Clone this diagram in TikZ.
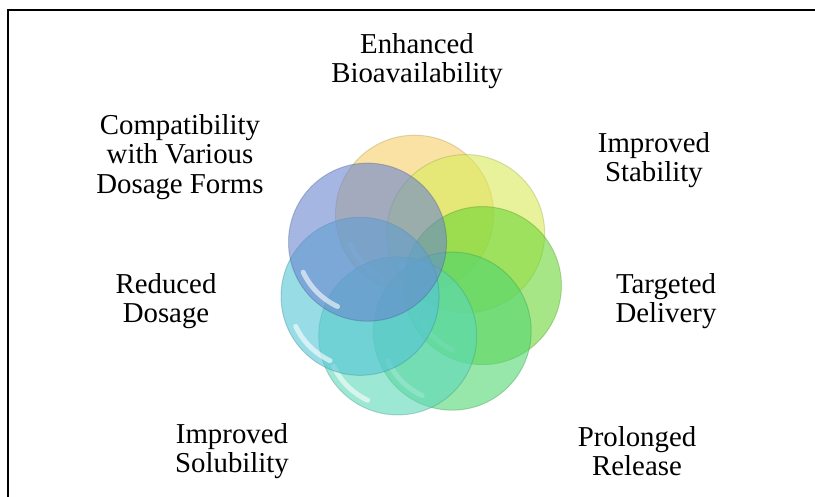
\documentclass[tikz,border=0pt]{standalone}
\usepackage{fontspec}
\setmainfont{Liberation Serif}
\usetikzlibrary{positioning,calc}
\definecolor{bubA}{HTML}{F7CF68}
\definecolor{bubB}{HTML}{D8EA58}
\definecolor{bubC}{HTML}{6CD636}
\definecolor{bubD}{HTML}{52D672}
\definecolor{bubE}{HTML}{5CD8B8}
\definecolor{bubF}{HTML}{54C4D6}
\definecolor{bubG}{HTML}{6A86CE}

\begin{document}
\begin{tikzpicture}[
  x=0.025cm, y=0.025cm,
  font=\fontsize{20.5}{21}\selectfont,
  bubble/.style={
    circle, minimum size=3.95cm, inner sep=0pt,
    fill=#1, fill opacity=0.6, draw=#1!70!black, draw opacity=0.35,
    line width=0.025cm,
  },
  shine/.style={white, line width=3.5, opacity=0.6, line cap=round},
  lbl/.style={align=center, text=black},
]
\useasboundingbox (0,0) rectangle (815,497);

% frame (only the left and top edges fall on the page)
\draw[line width=1.6pt] (8,-5) |- (820,487);

% ring of seven bubbles, clockwise from the top
\coordinate (mid) at (420,220);
\foreach \col [count=\i] in {bubA,bubB,bubC,bubD,bubE,bubF,bubG} {
  \pgfmathsetmacro\ang{95-(\i-1)*360/7}
  \node[bubble=\col] (b\i) at ($(mid)+(\ang:63)$) {};
  \draw[shine] ($(b\i)+(205:71)$) arc[start angle=205, end angle=245, radius=71];
}

% labels
\node[lbl] (bio)     at (417,436) {Enhanced\\Bioavailability};
\node[lbl] (stab)    at (654,337) {Improved\\Stability};
\node[lbl] (target)  at (666,196) {Targeted\\Delivery};
\node[lbl] (release) at (637,46)  {Prolonged\\Release};
\node[lbl] (solub)   at (232,46)  {Improved\\Solubility};
\node[lbl] (dosage)  at (166,196) {Reduced\\Dosage};
\node[lbl] (compat)  at (180,340) {Compatibility\\with Various\\Dosage Forms};

\end{tikzpicture}
\end{document}
